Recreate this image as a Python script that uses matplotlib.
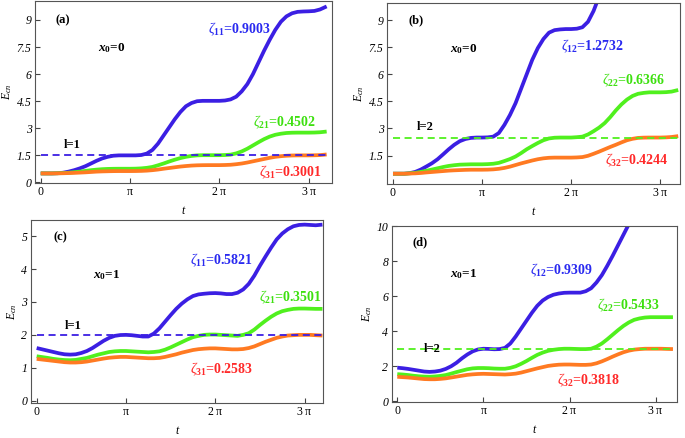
import numpy as np
import matplotlib
matplotlib.use('Agg')
import matplotlib.pyplot as plt

plt.rcParams['font.family'] = ['Liberation Serif', 'DejaVu Serif']
plt.rcParams['mathtext.fontset'] = 'custom'
plt.rcParams['mathtext.rm'] = 'Liberation Serif'
plt.rcParams['mathtext.it'] = 'Liberation Serif:italic'
plt.rcParams['mathtext.bf'] = 'Liberation Serif:bold'
plt.rcParams['mathtext.bfit'] = 'Liberation Serif:italic:bold'

# time grid in units of pi (steps of pi/16, last sample at 3.2 pi)
t_pi = list(np.arange(0, 3.15, 0.0625)) + [3.2]

# (a) x0=0, l=1
blue_a = [0.5, 0.5, 0.5, 0.51, 0.54, 0.6, 0.68, 0.78, 0.9, 1.05, 1.2, 1.33, 1.42, 1.48,
          1.5, 1.5, 1.5, 1.5, 1.52, 1.6, 1.8, 2.15, 2.6, 3.05, 3.5, 3.9, 4.22, 4.4, 4.5,
          4.52, 4.52, 4.52, 4.52, 4.54, 4.6, 4.75, 5.05, 5.45, 6.0, 6.65, 7.3, 7.9, 8.45,
          8.9, 9.2, 9.37, 9.45, 9.47, 9.48, 9.5, 9.58, 9.75]
green_a = [0.5, 0.5, 0.5, 0.51, 0.52, 0.54, 0.57, 0.6, 0.64, 0.68, 0.71, 0.735, 0.75,
           0.757, 0.76, 0.76, 0.76, 0.765, 0.78, 0.81, 0.86, 0.95, 1.05, 1.16, 1.26, 1.35,
           1.42, 1.47, 1.5, 1.51, 1.51, 1.51, 1.51, 1.52, 1.54, 1.61, 1.72, 1.87, 2.05,
           2.23, 2.4, 2.54, 2.64, 2.7, 2.74, 2.755, 2.76, 2.76, 2.76, 2.765, 2.78, 2.82]
orange_a = [0.5, 0.5, 0.5, 0.505, 0.51, 0.52, 0.53, 0.545, 0.56, 0.58, 0.6, 0.612, 0.62,
            0.627, 0.63, 0.63, 0.63, 0.633, 0.64, 0.655, 0.68, 0.715, 0.76, 0.8, 0.84,
            0.88, 0.91, 0.935, 0.95, 0.957, 0.96, 0.96, 0.96, 0.967, 0.98, 1.01, 1.05,
            1.105, 1.17, 1.235, 1.3, 1.365, 1.42, 1.455, 1.48, 1.494, 1.5, 1.5, 1.5, 1.505,
            1.515, 1.55]

# (b) x0=0, l=2
blue_b = [0.5, 0.5, 0.5, 0.53, 0.6, 0.73, 0.9, 1.08, 1.3, 1.57, 1.85, 2.1, 2.3, 2.42,
          2.48, 2.5, 2.5, 2.51, 2.55, 2.75, 3.2, 3.75, 4.4, 5.2, 6.0, 6.8, 7.45, 7.95, 8.3,
          8.44, 8.48, 8.5, 8.5, 8.52, 8.6, 8.9, 9.5, 10.3, 11.2]
green_b = [0.5, 0.5, 0.5, 0.52, 0.55, 0.6, 0.66, 0.73, 0.8, 0.87, 0.93, 0.97, 1.0, 1.01,
           1.02, 1.02, 1.02, 1.03, 1.05, 1.1, 1.2, 1.31, 1.45, 1.64, 1.85, 2.03, 2.2, 2.35,
           2.45, 2.49, 2.5, 2.5, 2.5, 2.52, 2.55, 2.67, 2.85, 3.05, 3.3, 3.63, 4.0, 4.33,
           4.6, 4.8, 4.92, 4.97, 5.0, 5.0, 5.0, 5.01, 5.04, 5.13]
orange_b = [0.5, 0.5, 0.5, 0.51, 0.52, 0.54, 0.57, 0.595, 0.62, 0.645, 0.67, 0.687, 0.7,
            0.712, 0.72, 0.72, 0.72, 0.725, 0.74, 0.77, 0.82, 0.89, 0.98, 1.07, 1.15, 1.23,
            1.3, 1.35, 1.38, 1.39, 1.39, 1.39, 1.39, 1.4, 1.42, 1.49, 1.6, 1.72, 1.85,
            1.98, 2.1, 2.23, 2.35, 2.43, 2.48, 2.495, 2.5, 2.5, 2.5, 2.51, 2.53, 2.58]

# (c) x0=1, l=1
blue_c = [1.6, 1.56, 1.52, 1.48, 1.44, 1.41, 1.4, 1.41, 1.45, 1.51, 1.6, 1.71, 1.82, 1.91,
          1.97, 1.995, 2.0, 1.99, 1.97, 1.95, 1.95, 2.04, 2.2, 2.4, 2.6, 2.79, 2.95, 3.08,
          3.18, 3.23, 3.25, 3.265, 3.27, 3.26, 3.24, 3.24, 3.28, 3.38, 3.55, 3.8, 4.1,
          4.38, 4.65, 4.9, 5.08, 5.21, 5.3, 5.34, 5.35, 5.34, 5.33, 5.35]
green_c = [1.35, 1.325, 1.3, 1.27, 1.25, 1.235, 1.23, 1.24, 1.27, 1.3, 1.35, 1.4, 1.44,
           1.48, 1.5, 1.51, 1.51, 1.5, 1.49, 1.48, 1.47, 1.48, 1.5, 1.55, 1.62, 1.7, 1.78,
           1.86, 1.93, 1.97, 2.0, 2.01, 2.01, 2.0, 1.99, 1.98, 1.97, 2.0, 2.05, 2.16, 2.3,
           2.43, 2.55, 2.65, 2.72, 2.76, 2.79, 2.8, 2.8, 2.795, 2.79, 2.79]
orange_c = [1.27, 1.25, 1.23, 1.21, 1.19, 1.17, 1.16, 1.16, 1.17, 1.19, 1.22, 1.25, 1.28,
            1.305, 1.32, 1.33, 1.33, 1.32, 1.31, 1.3, 1.29, 1.29, 1.3, 1.33, 1.37, 1.41,
            1.46, 1.5, 1.54, 1.565, 1.58, 1.59, 1.59, 1.58, 1.57, 1.56, 1.56, 1.57, 1.6,
            1.65, 1.72, 1.79, 1.85, 1.91, 1.95, 1.98, 1.99, 2.0, 2.0, 2.0, 1.99, 1.98]

# (d) x0=1, l=2
blue_d = [1.92, 1.89, 1.85, 1.8, 1.75, 1.7, 1.68, 1.7, 1.75, 1.85, 2.0, 2.2, 2.45, 2.67,
          2.85, 2.96, 3.0, 2.99, 2.97, 2.98, 3.05, 3.3, 3.7, 4.15, 4.6, 5.05, 5.45, 5.75,
          5.95, 6.08, 6.15, 6.19, 6.2, 6.2, 6.2, 6.28, 6.45, 6.78, 7.2, 7.73, 8.3, 8.9,
          9.5, 10.1, 10.8]
green_d = [1.55, 1.53, 1.5, 1.46, 1.43, 1.41, 1.4, 1.42, 1.45, 1.5, 1.58, 1.67, 1.75, 1.83,
           1.88, 1.9, 1.9, 1.89, 1.87, 1.86, 1.86, 1.91, 2.0, 2.14, 2.3, 2.48, 2.65, 2.78,
           2.88, 2.94, 2.98, 3.0, 3.0, 2.99, 2.98, 2.98, 3.0, 3.12, 3.3, 3.54, 3.8, 4.06,
           4.3, 4.5, 4.65, 4.73, 4.78, 4.8, 4.8, 4.8, 4.8, 4.8]
orange_d = [1.4, 1.38, 1.36, 1.33, 1.3, 1.27, 1.26, 1.26, 1.28, 1.31, 1.36, 1.41, 1.46,
            1.51, 1.54, 1.56, 1.57, 1.56, 1.55, 1.54, 1.53, 1.55, 1.58, 1.64, 1.72, 1.8,
            1.88, 1.95, 2.02, 2.06, 2.09, 2.1, 2.1, 2.09, 2.08, 2.08, 2.1, 2.17, 2.28, 2.41,
            2.55, 2.68, 2.8, 2.89, 2.95, 2.98, 3.0, 3.0, 3.0, 3.0, 2.99, 2.98]

zeta_labels = [
    ['0.9003', '0.4502', '0.3001'],
    ['1.2732', '0.6366', '0.4244'],
    ['0.5821', '0.3501', '0.2583'],
    ['0.9309', '0.5433', '0.3818'],
]
level_vals = [1.5, 2.5, 2.0, 3.0]
yticks_list = [[0, 1.5, 3, 4.5, 6, 7.5, 9], [1.5, 3, 4.5, 6, 7.5, 9],
               [0, 1, 2, 3, 4, 5], [0, 2, 4, 6, 8, 10]]
ytick_text = [['0', '1.5', '3', '4.5', '6', '7.5', '9'], ['1.5', '3', '4.5', '6', '7.5', '9'],
              ['0', '1', '2', '3', '4', '5'], ['0', '2', '4', '6', '8', '10']]

BLUE = '#3b1fe3'
GREEN = '#50f01e'
ORANGE = '#ff7a22'
TXT_BLUE = '#2a2af0'
TXT_GREEN = '#3ee010'
TXT_RED = '#ff2a2a'

fig = plt.figure(figsize=(6.85, 4.38), dpi=100)

positions = [[0.0511, 0.5822, 0.4336, 0.4155],
             [0.5650, 0.5799, 0.4277, 0.4132],
             [0.0448, 0.0799, 0.4267, 0.4178],
             [0.5718, 0.0829, 0.4169, 0.4011]]
xlims = [(-0.064, 3.26), (-0.067, 3.22), (-0.067, 3.206), (-0.065, 3.25)]
ylims = [(-0.03, 10.05), (-0.07, 9.94), (-0.07, 5.49), (-0.02, 10.0)]

curves = [(blue_a, green_a, orange_a), (blue_b, green_b, orange_b),
          (blue_c, green_c, orange_c), (blue_d, green_d, orange_d)]
tags = ['(a)', '(b)', '(c)', '(d)']
x0s = ['0', '0', '1', '1']
lvl = ['1', '2', '1', '2']
lcol = [BLUE, GREEN, BLUE, GREEN]
# text placements (t/pi, E)
tag_xy = [(0.25, 9.0), (0.26, 9.0), (0.26, 4.95), (0.26, 9.05)]
x0_xy = [(0.79, 7.44), (0.79, 7.38), (0.78, 3.83), (0.77, 7.27)]
l_xy = [(0.35, 2.09), (0.36, 3.1), (0.41, 2.26), (0.40, 3.0)]
z1_xy = [(2.23, 8.49), (2.24, 7.52), (2.07, 4.26), (1.91, 7.46)]
z2_xy = [(2.73, 3.32), (2.70, 5.68), (2.84, 3.14), (2.68, 5.49)]
z3_xy = [(2.79, 0.55), (2.74, 1.26), (2.07, 0.94), (2.22, 1.18)]

tick_x = [0, np.pi, 2 * np.pi, 3 * np.pi]
tick_xl = [r'$\mathit{0}$', r'$\mathrm{\pi}$', r'$\mathit{2}\ \mathrm{\pi}$', r'$\mathit{3}\ \mathrm{\pi}$']


def P(xy):
    return xy[0] * np.pi, xy[1]


for i in range(4):
    ax = fig.add_axes(positions[i])
    ax.set_xlim(xlims[i][0] * np.pi, xlims[i][1] * np.pi)
    ax.set_ylim(*ylims[i])
    b, g, o = curves[i]
    tb = np.array(t_pi[:len(b)]) * np.pi
    tt = np.array(t_pi) * np.pi
    for ys, tx, c in [(b, tb, BLUE), (g, tt, GREEN), (o, tt, ORANGE)]:
        ax.plot(tx, ys, color=c, lw=2.7, solid_capstyle='butt', solid_joinstyle='round')
    ax.plot([0, 3.2 * np.pi], [level_vals[i]] * 2, color=lcol[i], lw=1.3,
            dashes=(3.9, 2.5))

    ax.set_xticks(tick_x)
    ax.set_xticklabels(tick_xl, fontsize=8.5)
    ax.set_yticks(yticks_list[i])
    ax.set_yticklabels(ytick_text[i], fontsize=8.5, fontstyle='italic')
    ax.tick_params(direction='in', length=3.5, width=0.8, color='#444444', pad=2.5)
    for s in ax.spines.values():
        s.set_color('#555555')
        s.set_linewidth(0.8)
    ax.set_xlabel('t', fontstyle='italic', fontsize=8.5, labelpad=5)
    ax.set_ylabel(r'$E_{cn}$', fontsize=8.5, labelpad=2)

    k = lvl[i]
    ax.text(*P(tag_xy[i]), tags[i], fontsize=9, fontweight='bold', ha='center', va='center')
    ax.text(*P(x0_xy[i]), r'$\mathbfit{x}_{\mathbf{0}}$=' + x0s[i],
            fontsize=9.5, fontweight='bold', ha='center', va='center')
    ax.text(*P(l_xy[i]), 'l=' + k, fontsize=9, fontweight='bold', ha='center', va='center')
    for j, (xy, col) in enumerate([(z1_xy, TXT_BLUE), (z2_xy, TXT_GREEN), (z3_xy, TXT_RED)]):
        s = r'$\zeta_{\mathbf{' + str(j + 1) + k + r'}}$=' + zeta_labels[i][j]
        ax.text(*P(xy[i]), s, fontsize=10, fontweight='bold', color=col,
                ha='center', va='center')

fig.savefig('out.png', dpi=100)
